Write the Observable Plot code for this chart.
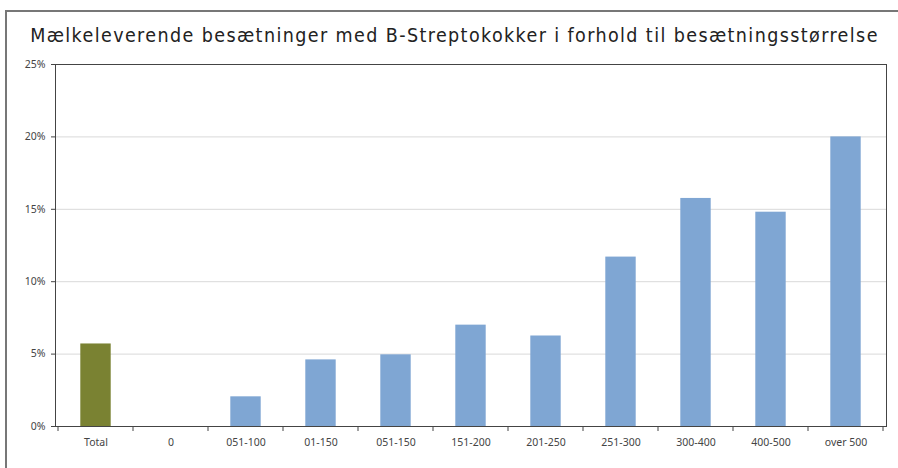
<!DOCTYPE html>
<html>
<head>
<meta charset="utf-8">
<script src="https://cdn.jsdelivr.net/npm/d3@7"></script>
<script src="https://cdn.jsdelivr.net/npm/@observablehq/plot@0.6"></script>
<style>
  html, body { margin: 0; padding: 0; background: #fff; }
  #wrap { position: relative; width: 898px; height: 468px; overflow: hidden; }
  #frame { position: absolute; left: 5px; top: 10px; width: 900px; height: 470px;
           border-left: 2px solid #777; border-top: 2px solid #777; pointer-events: none; }
  #title { height: 50px; box-sizing: border-box; padding-top: 24px; padding-left: 11px;
           text-align: center; font-family: "DejaVu Sans Condensed", "DejaVu Sans", sans-serif;
           font-size: 19.5px; letter-spacing: 1.4px; color: #222; white-space: nowrap; }
  #chart svg { display: block; }
</style>
</head>
<body>
<div id="wrap">
  <div id="frame"></div>
  <div id="title">Mælkeleverende besætninger med B-Streptokokker i forhold til besætningsstørrelse</div>
  <div id="chart"></div>
</div>
<script>
const categories = ["Total", "0", "051-100", "01-150", "051-150", "151-200", "201-250", "251-300", "300-400", "400-500", "over 500"];
const values = [5.7, 0, 2.05, 4.6, 4.95, 7.0, 6.25, 11.7, 15.75, 14.8, 20.0];
const yTicks = [0, 5, 10, 15, 20, 25];
const gridTicks = [5, 10, 15, 20];

const data = categories.map((c, i) => ({category: c, value: values[i]}));

const OLIVE = "#7a8232";
const BLUE = "#7fa6d3";

function boundaryTicks(index, scales) {
  const x = scales.x, y = scales.y;
  const step = x(categories[1]) - x(categories[0]);
  const xs = categories.map(c => x(c)).concat([x(categories[categories.length - 1]) + step]);
  const y0 = y(0);
  const g = d3.create("svg:g").attr("stroke", "#444").attr("stroke-width", 1);
  g.selectAll("line").data(xs).join("line")
    .attr("x1", d => d).attr("x2", d => d)
    .attr("y1", y0).attr("y2", y0 + 5);
  return g.node();
}

const chart = Plot.plot({
  width: 898,
  height: 418,
  marginTop: 14,
  marginBottom: 42,
  marginLeft: 55,
  marginRight: 12,
  style: { fontFamily: "'Noto Sans', sans-serif", fontSize: "10.5px", color: "#444", background: "#fff" },
  x: { domain: categories, padding: 0, label: null, tickSize: 0, tickPadding: 12 },
  y: { domain: [0, 25], ticks: yTicks, tickFormat: d => d + "%", label: null, tickSize: 4, tickPadding: 6 },
  color: { type: "identity" },
  marks: [
    Plot.ruleY(gridTicks, { stroke: "#d9d9d9", strokeWidth: 1 }),
    Plot.barY(data, { x: "category", y: "value", fill: d => d.category === "Total" ? OLIVE : BLUE, insetLeft: 22.3, insetRight: 22.3 }),
    Plot.frame({ stroke: "#444", strokeWidth: 1 }),
    Plot.ruleY([0], { stroke: "#444", strokeWidth: 1.2 }),
    boundaryTicks
  ]
});
document.getElementById("chart").appendChild(chart);
</script>
</body>
</html>
